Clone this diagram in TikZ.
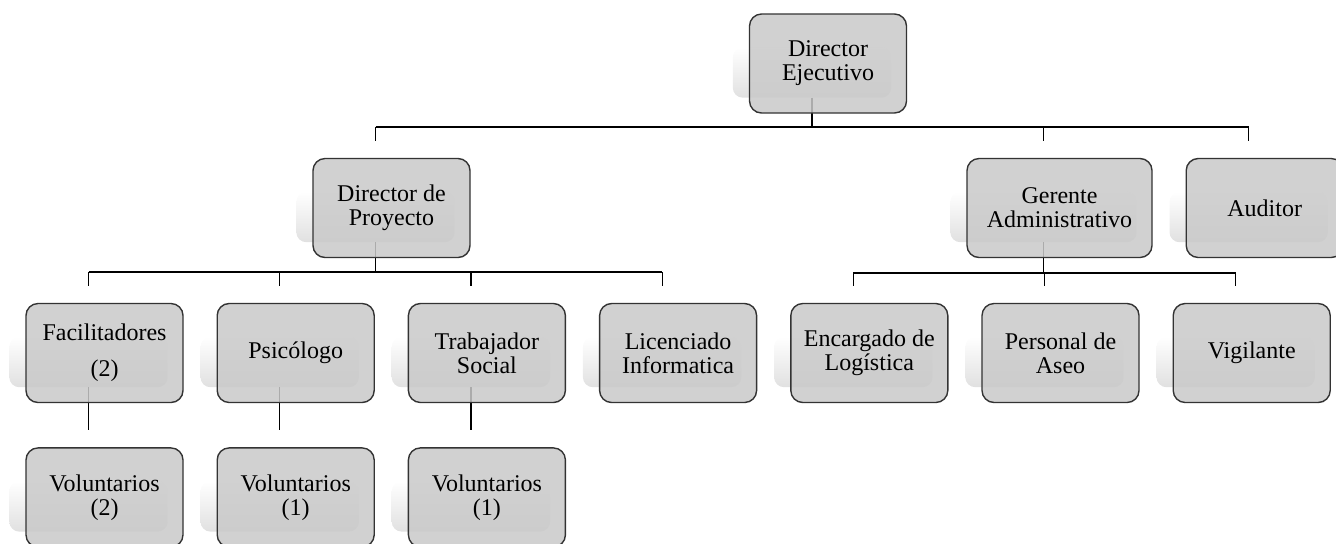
\documentclass[tikz,border=0pt]{standalone}
\usepackage{fontspec}
\setmainfont{Liberation Serif}
\usetikzlibrary{positioning, backgrounds}
\tikzstyle{cargo} = [rectangle, rounded corners=6pt, minimum width=78.5pt, minimum height=49.5pt, align=center, inner sep=2pt, draw=black!80, line width=0.7pt, fill=black!21, fill opacity=0.85, text opacity=1, font=\fontsize{12}{12}\selectfont]
\tikzstyle{sombra} = [top color=white, bottom color=black!12, rounded corners=5pt]
\tikzstyle{linea} = [line width=0.6pt]

\begin{document}
\begin{tikzpicture}[x=0.5pt, y=-0.5pt, node distance=16.4pt]
	\useasboundingbox (0,0) rectangle (1336,543);
	\clip (0,0) rectangle (1336,543);

	\node[cargo] (de) at (828,63.5) {Director\\Ejecutivo};
	\node[cargo] (dp) at (391.5,208) {Director de\\Proyecto};
	\node[cargo, minimum width=92.5pt] (ga) at (1059.5,208) {Gerente\\Administrativo};
	\node[cargo, right=of ga] (au) {Auditor};

	\node[cargo] (fa) at (104.5,353) {Facilitadores\\[6pt](2)};
	\node[cargo, right=of fa] (ps) {Psicólogo};
	\node[cargo, right=of ps] (ts) {Trabajador\\Social};
	\node[cargo, right=of ts] (li) {Licenciado\\Informatica};
	\node[cargo, right=of li] (en) {Encargado de\\Logística};
	\node[cargo, right=of en] (pa) {Personal de\\Aseo};
	\node[cargo, right=of pa] (vi) {Vigilante};

	\node[cargo, below=22pt of fa] (v1) {Voluntarios\\(2)};
	\node[cargo, below=22pt of ps] (v2) {Voluntarios\\(1)};
	\node[cargo, below=22pt of ts] (v3) {Voluntarios\\(1)};

	\coordinate (bus1) at (0,127);
	\coordinate (bus2) at (0,272);
	\coordinate (bus3) at (0,273);

	\begin{scope}[on background layer]
		\foreach \n in {de,dp,ga,au,fa,ps,ts,li,en,pa,vi,v1,v2,v3}
			\shade[sombra] ([shift={(-8pt,-17pt)}]\n.north west) rectangle ([shift={(-8pt,8pt)}]\n.south east);

		% director ejecutivo
		\draw[linea] ([shift={(-8pt,8pt)}]de.south) -- ([xshift=-8pt]de.south |- bus1);
		\draw[linea] ([xshift=-8pt]dp.north |- bus1) -- ([xshift=-8pt]au.north |- bus1);
		\foreach \n in {dp,ga,au}
			\draw[linea] ([xshift=-8pt]\n.north |- bus1) -- ([shift={(-8pt,8.5pt)}]\n.north);

		% director de proyecto
		\draw[linea] ([shift={(-8pt,8pt)}]dp.south) -- ([xshift=-8pt]dp.south |- bus2);
		\draw[linea] ([xshift=-8pt]fa.north |- bus2) -- ([xshift=-8pt]li.north |- bus2);
		\foreach \n in {fa,ps,ts,li}
			\draw[linea] ([xshift=-8pt]\n.north |- bus2) -- ([shift={(-8pt,8.5pt)}]\n.north);

		% gerente administrativo
		\draw[linea] ([shift={(-8pt,8pt)}]ga.south) -- ([xshift=-8pt]ga.south |- bus3);
		\draw[linea] ([xshift=-8pt]en.north |- bus3) -- ([xshift=-8pt]vi.north |- bus3);
		\foreach \n in {en,pa,vi}
			\draw[linea] ([xshift=-8pt]\n.north |- bus3) -- ([shift={(-8pt,8.5pt)}]\n.north);

		% voluntarios
		\draw[linea] ([shift={(-8pt,8pt)}]fa.south) -- ([shift={(-8pt,8.5pt)}]v1.north);
		\draw[linea] ([shift={(-8pt,8pt)}]ps.south) -- ([shift={(-8pt,8.5pt)}]v2.north);
		\draw[linea] ([shift={(-8pt,8pt)}]ts.south) -- ([shift={(-8pt,8.5pt)}]v3.north);
	\end{scope}
\end{tikzpicture}
\end{document}
